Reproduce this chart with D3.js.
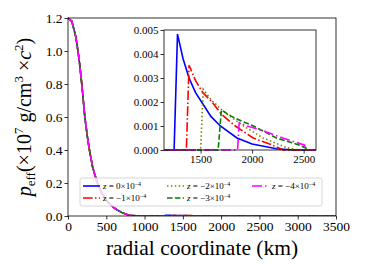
<!DOCTYPE html>
<html>
<body style="margin:0;background:#fff">
<svg id="chart" width="365" height="274"></svg>
<script src="https://d3js.org/d3.v7.min.js"></script>
<script>
var serif = "'Liberation Serif'"

// central profile, shared by every z (they overlap in the main panel)
var coreR = [0, 50, 100, 130, 150, 180, 200, 220, 250, 280, 320, 350, 400, 450, 500, 550, 600, 650, 700, 750, 800, 900, 1000]
var coreP = [1.2, 1.18, 1.09, 1.0, 0.93, 0.8, 0.7, 0.6, 0.49, 0.4, 0.3, 0.25, 0.18, 0.13, 0.095, 0.07, 0.05, 0.035, 0.022, 0.012, 0.005, 0.001, 0]

// outer shell for each z
var zLabels = ["0", "\u22121", "\u22122", "\u22123", "\u22124"]
var shellR0 = [1243, 1276, 1330, 1388, 1450, 1510, 1600, 1692, 1853, 2000, 2237, 2400]
var shellP0 = [0, 0.00483, 0.0038, 0.003, 0.0024, 0.002, 0.0014, 0.001, 0.0005, 0.00025, 0.00005, 0]
var shellR1 = [1362, 1388, 1450, 1520, 1612, 1700, 1837, 2010, 2200, 2300]
var shellP1 = [0, 0.00353, 0.0029, 0.0024, 0.002, 0.0015, 0.001, 0.0005, 0.0002, 0]
var shellR2 = [1500, 1526, 1600, 1700, 1756, 1917, 2106, 2333, 2450]
var shellP2 = [0, 0.00253, 0.0021, 0.0017, 0.0015, 0.001, 0.0005, 0.0001, 0]
var shellR3 = [1670, 1702, 1800, 1900, 2013, 2237, 2462, 2560]
var shellP3 = [0, 0.00167, 0.0014, 0.0012, 0.001, 0.0005, 0.0002, 0]
var shellR4 = [1859, 1875, 1950, 2109, 2298, 2510, 2520]
var shellP4 = [0, 0.00114, 0.001, 0.0008, 0.0005, 0.0002, 0]

var xTicks = [0, 500, 1000, 1500, 2000, 2500, 3000, 3500]
var yTicks = [0, 0.2, 0.4, 0.6, 0.8, 1.0, 1.2]
var inXTicks = [1500, 2000, 2500]
var inYTicks = [0, 0.001, 0.002, 0.003, 0.004, 0.005]

var colors = ["#0000ff", "#ff0000", "#808000", "#008000", "#ff00ff"]
var dashes = ["none", "9.6,2.4,1.5,2.4", "1.5,2.4", "5.5,2.4", "10,3,1.5,3"]

var shellR = [shellR0, shellR1, shellR2, shellR3, shellR4]
var shellP = [shellP0, shellP1, shellP2, shellP3, shellP4]

var series = zLabels.map(function(z, i) {
  var pts = coreR.map(function(r, j) { return [r, coreP[j]] })
  shellR[i].forEach(function(r, j) { pts.push([r, shellP[i][j]]) })
  pts.push([3500, 0])
  return {z: z, color: colors[i], dash: dashes[i], pts: pts}
})

var svg = d3.select('#chart').style('font-family', serif)

// main axes
var L = 68, R = 336, T = 18, B = 216
var x = d3.scaleLinear().domain([0, 3500]).range([L, R])
var y = d3.scaleLinear().domain([0, 1.2]).range([B, T])

svg.append('clipPath').attr('id', 'mainclip').append('rect')
  .attr('x', L).attr('y', T - 2).attr('width', R - L).attr('height', B - T + 2)

var line = d3.line().x(function(d) { return x(d[0]) }).y(function(d) { return y(d[1]) })

svg.append('g').attr('clip-path', 'url(#mainclip)')
  .selectAll('path').data(series).enter().append('path')
  .attr('d', function(d) { return line(d.pts) })
  .attr('fill', 'none')
  .attr('stroke', function(d) { return d.color })
  .attr('stroke-width', 1.6)
  .attr('stroke-dasharray', function(d) { return d.dash })

function styleAxis(g, size) {
  g.select('.domain').remove()
  g.selectAll('text').style('font-family', serif).style('font-size', size + 'px').attr('fill', '#000')
  g.selectAll('line').attr('stroke', '#000').attr('stroke-width', 0.8)
}

var gx = svg.append('g').attr('transform', 'translate(0,' + B + ')')
  .call(d3.axisBottom(x).tickValues(xTicks).tickSize(3.5).tickPadding(2).tickFormat(d3.format('d')))
var gy = svg.append('g').attr('transform', 'translate(' + L + ',0)')
  .call(d3.axisLeft(y).tickValues(yTicks).tickSize(3.5).tickPadding(2).tickFormat(d3.format('.1f')))
styleAxis(gx, 13.5)
styleAxis(gy, 13.5)
svg.append('rect').attr('x', L).attr('y', T).attr('width', R - L).attr('height', B - T)
  .attr('fill', 'none').attr('stroke', '#000').attr('stroke-width', 0.8)

// axis titles
svg.append('text').attr('x', (L + R) / 2).attr('y', 255).attr('text-anchor', 'middle')
  .style('font-family', serif).style('font-size', '21.5px').text('radial coordinate (km)')

var yt = svg.append('text').attr('transform', 'translate(31,' + ((T + B) / 2) + ') rotate(-90)')
  .attr('text-anchor', 'middle').style('font-family', serif).style('font-size', '20px')
yt.append('tspan').attr('font-style', 'italic').text('p')
yt.append('tspan').style('font-size', '13px').attr('dy', 4).text('eff')
yt.append('tspan').attr('dy', -4).text('(\u00d710')
yt.append('tspan').style('font-size', '13px').attr('dy', -8).text('7')
yt.append('tspan').attr('dy', 8).text(' g/cm')
yt.append('tspan').style('font-size', '13px').attr('dy', -8).text('3')
yt.append('tspan').attr('dy', 8).text(' \u00d7')
yt.append('tspan').attr('font-style', 'italic').text('c')
yt.append('tspan').style('font-size', '13px').attr('dy', -8).text('2')
yt.append('tspan').attr('dy', 8).text(')')

// legend
var lg = svg.append('g')
lg.append('rect').attr('x', 80).attr('y', 178).attr('width', 242).attr('height', 28).attr('rx', 2)
  .attr('fill', '#fff').attr('fill-opacity', 0.8).attr('stroke', '#cccccc').attr('stroke-width', 0.8)
var cols = [83, 167, 252], rows = [186, 198]
var slots = [[0, 0], [0, 1], [1, 0], [1, 1], [2, 0]]
series.forEach(function(s, i) {
  var cx = cols[slots[i][0]], cy = rows[slots[i][1]]
  lg.append('line').attr('x1', cx).attr('x2', cx + 17).attr('y1', cy).attr('y2', cy)
    .attr('stroke', s.color).attr('stroke-width', 1.6).attr('stroke-dasharray', s.dash)
  var t = lg.append('text').attr('x', cx + 20).attr('y', cy + 3)
    .style('font-family', serif).style('font-size', '9px')
  t.append('tspan').style('font-style', 'italic').text('z')
  t.append('tspan').text(' = ' + s.z + '\u00d710')
  t.append('tspan').style('font-size', '6px').attr('dy', -3.5).text('\u22124')
})

// inset
var iL = 164, iR = 316, iT = 30, iB = 150
var xi = d3.scaleLinear().domain([1145, 2620]).range([iL, iR])
var yi = d3.scaleLinear().domain([0, 0.005]).range([iB, iT])

svg.append('rect').attr('x', iL).attr('y', iT).attr('width', iR - iL).attr('height', iB - iT).attr('fill', '#fff')
svg.append('clipPath').attr('id', 'inclip').append('rect')
  .attr('x', iL).attr('y', iT).attr('width', iR - iL).attr('height', iB - iT + 1)

var iline = d3.line().x(function(d) { return xi(d[0]) }).y(function(d) { return yi(d[1]) })
svg.append('g').attr('clip-path', 'url(#inclip)')
  .selectAll('path').data(series).enter().append('path')
  .attr('d', function(d) { return iline(d.pts) })
  .attr('fill', 'none')
  .attr('stroke', function(d) { return d.color })
  .attr('stroke-width', 1.6)
  .attr('stroke-dasharray', function(d) { return d.dash })

var ix = svg.append('g').attr('transform', 'translate(0,' + iB + ')')
  .call(d3.axisBottom(xi).tickValues(inXTicks).tickSize(3.5).tickPadding(2).tickFormat(d3.format('d')))
var iy = svg.append('g').attr('transform', 'translate(' + iL + ',0)')
  .call(d3.axisLeft(yi).tickValues(inYTicks).tickSize(3.5).tickPadding(2).tickFormat(d3.format('.3f')))
styleAxis(ix, 11)
styleAxis(iy, 11)
svg.append('rect').attr('x', iL).attr('y', iT).attr('width', iR - iL).attr('height', iB - iT)
  .attr('fill', 'none').attr('stroke', '#000').attr('stroke-width', 0.8)
</script>
</body>
</html>
